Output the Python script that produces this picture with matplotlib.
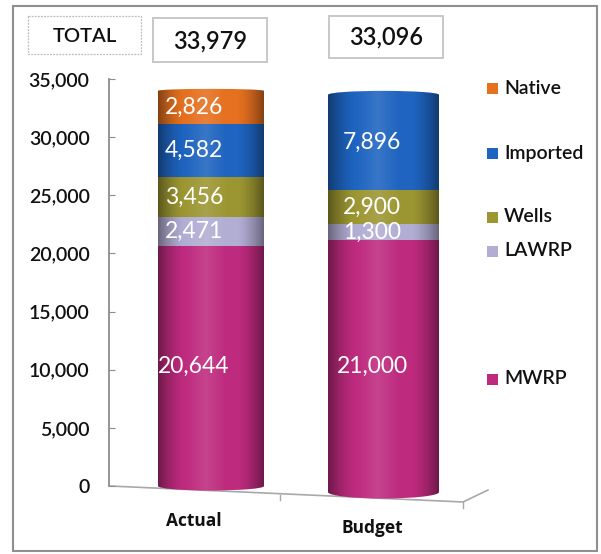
import numpy as np
import matplotlib
matplotlib.use("Agg")
import matplotlib.pyplot as plt
from matplotlib.patches import Ellipse, Rectangle, PathPatch
from matplotlib.path import Path

# ---- data ----
categories = ["Actual", "Budget"]
series_names = ["MWRP", "LAWRP", "Wells", "Imported", "Native"]
mwrp = [20644, 21000]
lawrp = [2471, 1300]
wells = [3456, 2900]
imported = [4582, 7896]
native = [2826, 0]
totals = ["33,979", "33,096"]
y_ticks = [0, 5000, 10000, 15000, 20000, 25000, 30000, 35000]

# ---- style / layout ----
W, H = 601, 554
plt.rcParams["font.family"] = ["Lato", "DejaVu Sans"]
colors = ["#BE2A7E", "#B2ADD3", "#9C9632", "#1E64C0", "#E5701F"]
legend_y = {"Native": 88, "Imported": 153, "Wells": 217, "LAWRP": 251, "MWRP": 379}
TXT = "#111111"
GREY = "#8C8C8C"
MED = "semibold"

fig = plt.figure(figsize=(W / 100, H / 100), dpi=100, facecolor="white")

# Overlay in pixel coordinates for the frame, boxes, floor and legend
bg = fig.add_axes([0, 0, 1, 1], zorder=0)
bg.set_xlim(0, W)
bg.set_ylim(H, 0)
bg.axis("off")
bg.add_patch(Rectangle((13, 6), 584, 545, fill=False, ec="#8F8F8F", lw=1.5))
bg.add_patch(Rectangle((28, 16), 113, 38, fill=False, ec="#BDBDBD", lw=0.9, ls=(0, (1.5, 1))))
bg.add_patch(Rectangle((153, 18), 114, 44, fill=False, ec="#C8C8C8", lw=1.4))
bg.add_patch(Rectangle((329, 16), 114, 42, fill=False, ec="#C8C8C8", lw=1.4))
bg.text(85, 36.5, "TOTAL", ha="center", va="center", fontsize=14.5, color=TXT, fontweight=MED)
bg.text(210, 41, totals[0], ha="center", va="center", fontsize=17, color=TXT, fontweight=MED)
bg.text(386, 37, totals[1], ha="center", va="center", fontsize=17, color=TXT, fontweight=MED)
bg.plot([110, 463, 488], [486, 502, 490], color="#A8A8A8", lw=1.2)
bg.plot([280, 280], [495, 500], color="#A8A8A8", lw=1)
bg.plot([463, 463], [502, 508], color="#A8A8A8", lw=1)
for name, col in zip(series_names, colors):
    y = legend_y[name]
    bg.add_patch(Rectangle((487, y - 5.5), 11, 11, fc=col, ec="none"))
    bg.text(504, y, name, ha="left", va="center", fontsize=14, color=TXT, fontweight=MED)


def make_axes(y0, ytop, z):
    ax = fig.add_axes([0, (H - y0) / H, 1, (y0 - ytop) / H], zorder=z)
    ax.patch.set_alpha(0)
    ax.set_xlim(0, W)
    ax.set_ylim(0, 35000)
    for s in ax.spines.values():
        s.set_visible(False)
    return ax


ax_actual = make_axes(486, 79, 2)
ax_budget = make_axes(492, 72, 3)

# value axis
ax_actual.spines["left"].set_visible(True)
ax_actual.spines["left"].set_position(("data", 109))
ax_actual.spines["left"].set_color(GREY)
ax_actual.spines["left"].set_linewidth(1.3)
ax_actual.set_yticks(y_ticks, [f"{v:,}" for v in y_ticks])
ax_actual.tick_params(axis="y", direction="in", length=4, width=0.8, color=GREY,
                      labelsize=14, labelcolor=TXT, pad=14)
for lab in ax_actual.get_yticklabels():
    lab.set_fontweight(MED)
ax_budget.set_yticks([])

all_series = [mwrp, lawrp, wells, imported, native]
bar_geom = [(ax_actual, 211, 106, 194, 4.5, 2.0, 11.63e-3, 18.5),
            (ax_budget, 383.5, 111, 372, 6.5, 4.0, 12.0e-3, 19.5)]


def shade_image():
    t = np.linspace(-1, 1, 220)
    edge = np.clip((np.abs(t) - 0.5) / 0.5, 0, 1) ** 1.5
    core = np.clip(1 - np.abs(t + 0.1) / 0.4, 0, 1)
    rgba = np.zeros((1, t.size, 4))
    rgba[..., 3] = 0.42 * edge + 0.12 * core
    rgba[..., :3] = (core > 0)[None, :, None] * 1.0
    return rgba


for i, (ax, cx, bw, lx, cap_b, cap_t, px_per_unit, tick_pad) in enumerate(bar_geom):
    bottom = 0
    top_col = None
    for vals, col in zip(all_series, colors):
        v = vals[i]
        if v > 0:
            ax.bar(cx, v, width=bw, bottom=bottom, color=col, edgecolor="none", zorder=2)
            ax.text(lx, bottom + v / 2, f"{v:,}", ha="center", va="center",
                    color="white", fontsize=16.5, zorder=6)
            bottom += v
            top_col = col
    h_b = cap_b / px_per_unit
    h_t = cap_t / px_per_unit
    ax.add_patch(Ellipse((cx, 0), bw, 2 * h_b, fc=colors[0], ec="none", zorder=1.5, clip_on=False))
    ax.add_patch(Ellipse((cx, bottom), bw, 2 * h_t, fc=top_col, ec="none", zorder=1.5, clip_on=False))

    # cylinder silhouette used to clip the horizontal shading
    a = np.linspace(0, np.pi, 60)
    xs_low = cx - bw / 2 * np.cos(a)
    ys_low = -h_b * np.sin(a)
    xs_up = cx + bw / 2 * np.cos(a)
    ys_up = bottom + h_t * np.sin(a)
    verts = np.column_stack([np.r_[xs_low, xs_up], np.r_[ys_low, ys_up]])
    clip = PathPatch(Path(verts), transform=ax.transData)
    im = ax.imshow(shade_image(), extent=(cx - bw / 2, cx + bw / 2, -h_b, bottom + h_t),
                   aspect="auto", zorder=4, interpolation="bilinear")
    im.set_clip_path(clip)
    im.set_clip_box(fig.bbox)
    ax.set_xlim(0, W)
    ax.set_ylim(0, 35000)
    ax.set_xticks([194 if i == 0 else 372], [categories[i]])
    ax.tick_params(axis="x", length=0, pad=tick_pad, labelsize=12.5, labelcolor=TXT)
    for lab in ax.get_xticklabels():
        lab.set_fontfamily("Open Sans")
        lab.set_fontweight("bold")

fig.savefig("out.png", dpi=100, facecolor="white")
